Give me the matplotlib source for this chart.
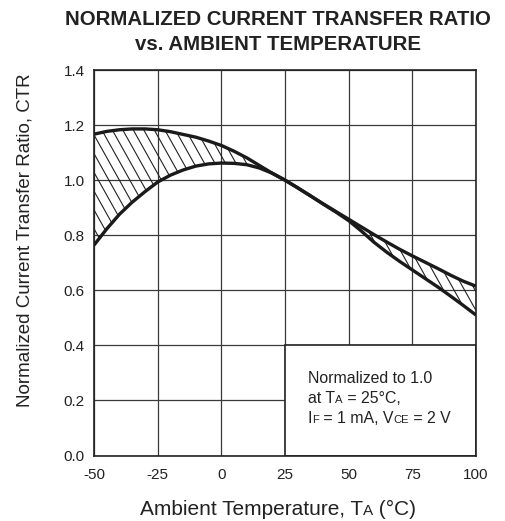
import numpy as np
import matplotlib
matplotlib.use("Agg")
import matplotlib.pyplot as plt
from matplotlib.patches import Rectangle, Polygon
from matplotlib.collections import LineCollection
from matplotlib.offsetbox import TextArea, HPacker, VPacker, AnnotationBbox

plt.rcParams['font.family'] = ['Liberation Sans', 'DejaVu Sans']

# ---- data ----
temp = [-50, -45, -40, -35, -30, -25, -20, -15, -10, -5, 0, 5, 10, 15, 20, 25,
        30, 35, 40, 45, 50, 55, 60, 65, 70, 75, 80, 85, 90, 95, 100]
ctr_upper = [1.167, 1.177, 1.183, 1.186, 1.186, 1.183, 1.176, 1.166, 1.156, 1.142,
             1.126, 1.105, 1.081, 1.053, 1.025, 1.000, 0.972, 0.943, 0.914, 0.886,
             0.858, 0.830, 0.802, 0.775, 0.749, 0.725, 0.702, 0.679, 0.655, 0.633, 0.615]
ctr_lower = [0.764, 0.823, 0.876, 0.920, 0.958, 0.993, 1.018, 1.037, 1.051, 1.059,
             1.062, 1.061, 1.056, 1.044, 1.025, 1.000, 0.972, 0.943, 0.913, 0.884,
             0.853, 0.815, 0.774, 0.738, 0.705, 0.674, 0.643, 0.612, 0.579, 0.545, 0.510]
x_ticks = [-50, -25, 0, 25, 50, 75, 100]
y_ticks = [0.0, 0.2, 0.4, 0.6, 0.8, 1.0, 1.2, 1.4]
x_ticklabels = ['-50', '-25', '0', '25', '50', '75', '100']
y_ticklabels = ['0.0', '0.2', '0.4', '0.6', '0.8', '1.0', '1.2', '1.4']

fig = plt.figure(figsize=(5.06, 5.21), dpi=100)
ax = fig.add_axes([94 / 506, 1 - 455.5 / 521, 382 / 506, 385.5 / 521])

ax.set_xlim(-50, 100)
ax.set_ylim(0, 1.4)
ax.set_xticks(x_ticks)
ax.set_xticklabels(x_ticklabels)
ax.set_yticks(y_ticks)
ax.set_yticklabels(y_ticklabels)
ax.tick_params(axis='both', length=0, labelsize=11, colors='#222222')
ax.tick_params(axis='x', pad=9)
ax.tick_params(axis='y', pad=6.5)
ax.set_axisbelow(True)
ax.grid(True, color='#3a3a3a', linewidth=0.9)
for s in ax.spines.values():
    s.set_color('#222222')
    s.set_linewidth(1.2)

# region between curves, used to clip the hatching
verts = np.column_stack([np.concatenate([temp, temp[::-1]]),
                         np.concatenate([ctr_upper, ctr_lower[::-1]])])
region = Polygon(verts, closed=True, facecolor='none', edgecolor='none')
ax.add_patch(region)

slope = 1.77
spacing = 0.0275
segs = []
for c in np.arange(-0.7, 1.05, spacing):
    segs.append([(c, 1.0), (c + 1.0 / slope, 0.0)])
hatch = LineCollection(segs, colors='#222222', linewidths=0.8,
                       transform=ax.transAxes, zorder=2)
hatch.set_clip_path(region)
ax.add_collection(hatch)

ax.plot(temp, ctr_upper, color='#1a1a1a', linewidth=2.4, zorder=3,
        solid_capstyle='butt')
ax.plot(temp, ctr_lower, color='#1a1a1a', linewidth=2.4, zorder=3,
        solid_capstyle='butt')

# note box
ax.add_patch(Rectangle((25, 0), 75, 0.4, facecolor='white', edgecolor='#222222',
                       linewidth=1.2, zorder=1.5))

def row(parts, big, small):
    kids = []
    for txt, is_small in parts:
        kids.append(TextArea(txt, textprops=dict(fontsize=small if is_small else big,
                                                 color='#222222')))
    return HPacker(children=kids, align='baseline', pad=0, sep=0)

note = VPacker(children=[
    row([("Normalized to 1.0", False)], 11.4, 8.1),
    row([("at T", False), ("A", True), (" = 25°C,", False)], 11.4, 8.1),
    row([("I", False), ("F", True), (" = 1 mA, V", False), ("CE", True), (" = 2 V", False)], 11.4, 8.1),
], align='left', pad=0, sep=3.7)
ab = AnnotationBbox(note, (34.0, 0.307), xycoords='data', box_alignment=(0, 1),
                    frameon=False, zorder=4, annotation_clip=False)
ax.add_artist(ab)

# x label with small-caps subscript
xl = row([("Ambient Temperature, T", False), ("A", True), (" (°C)", False)], 15, 11)
abx = AnnotationBbox(xl, (278 / 506, 1 - 509 / 521), xycoords='figure fraction',
                     box_alignment=(0.5, 0.5), frameon=False, annotation_clip=False)
ax.add_artist(abx)

fig.text(25 / 506, 1 - 240.5 / 521, "Normalized Current Transfer Ratio, CTR",
         rotation=90, ha='center', va='center', fontsize=13.5, color='#222222')

fig.text(0.550, 1 - 25 / 521, "NORMALIZED CURRENT TRANSFER RATIO", ha='center',
         va='baseline', fontsize=14.7, fontweight='bold', color='#222222')
fig.text(0.550, 1 - 50 / 521, "vs. AMBIENT TEMPERATURE", ha='center',
         va='baseline', fontsize=14.7, fontweight='bold', color='#222222')

fig.savefig('out.png', dpi=100)
